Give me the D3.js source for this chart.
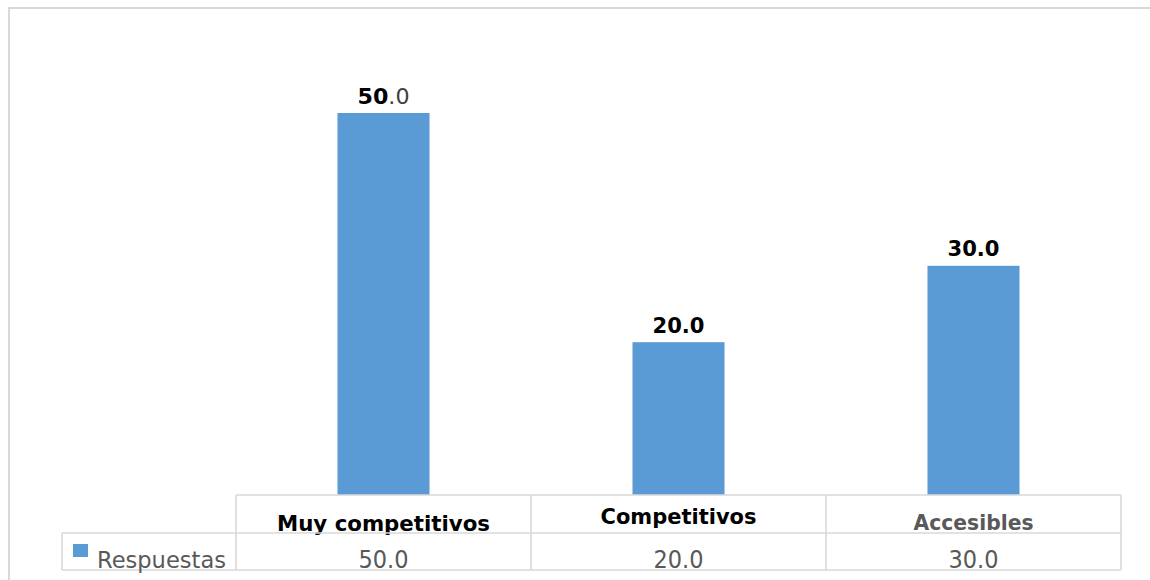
<!DOCTYPE html>
<html>
<head>
<meta charset="utf-8">
<script src="https://cdn.jsdelivr.net/npm/d3@7"></script>
<style>
  html, body { margin: 0; padding: 0; background: #fff; }
  svg { display: block; }
</style>
</head>
<body>
<svg id="chart" width="1150" height="580"></svg>
<script>
const categories = ["Muy competitivos", "Competitivos", "Accesibles"];
const values = [50.0, 20.0, 30.0];
const seriesName = "Respuestas";
const catColors = ["#000000", "#000000", "#595959"];
const catBaselines = [531, 524, 530];
const catWidths = [213, 156, 120];

const svg = d3.select("#chart");
const W = 1150, H = 580;
const tableLeft = 236, tableRight = 1121;
const axisY = 495, rowY = 533, tableBottom = 570, legendLeft = 62;
const lineColor = "#d9d9d9";

// outer chart border
svg.append("path")
  .attr("d", `M9,${H} L9,8 L${W},8`)
  .attr("fill", "none").attr("stroke", lineColor).attr("stroke-width", 2);

const x = d3.scaleBand().domain(categories).range([tableLeft, tableRight]).padding(0);
const y = d3.scaleLinear().domain([0, 50]).range([axisY, 113]);
const barW = x.bandwidth() * 0.312;

// bars
svg.selectAll("rect.bar").data(values).join("rect")
  .attr("class", "bar")
  .attr("x", (d, i) => x(categories[i]) + (x.bandwidth() - barW) / 2)
  .attr("y", d => y(d))
  .attr("width", barW)
  .attr("height", d => y(0) - y(d))
  .attr("fill", "#5B9BD5");

// data labels
const lbl = svg.selectAll("text.dl").data(values).join("text")
  .attr("class", "dl")
  .attr("x", (d, i) => x(categories[i]) + x.bandwidth() / 2)
  .attr("y", d => y(d) - 9.5)
  .attr("text-anchor", "middle")
  .attr("font-family", "DejaVu Sans")
  .attr("font-size", 21.5)
  .attr("textLength", 52)
  .attr("lengthAdjust", "spacingAndGlyphs");
lbl.each(function(d, i) {
  const t = d3.select(this);
  const s = d.toFixed(1).split(".");
  if (i === 0) {
    t.append("tspan").attr("font-weight", "bold").attr("fill", "#000").text(s[0]);
    t.append("tspan").attr("fill", "#404040").text("." + s[1]);
  } else {
    t.attr("font-weight", "bold").attr("fill", "#000").text(d.toFixed(1));
  }
});

// category header texts (drawn before grid lines so the row line overlaps)
svg.selectAll("text.cat").data(categories).join("text")
  .attr("class", "cat")
  .attr("x", d => x(d) + x.bandwidth() / 2)
  .attr("y", (d, i) => catBaselines[i])
  .attr("text-anchor", "middle")
  .attr("font-family", "DejaVu Sans")
  .attr("font-weight", "bold")
  .attr("font-size", 21)
  .attr("textLength", (d, i) => catWidths[i])
  .attr("lengthAdjust", "spacingAndGlyphs")
  .attr("fill", (d, i) => catColors[i])
  .text(d => d);

// data table grid
const g = svg.append("g").attr("fill", "none").attr("stroke", lineColor).attr("stroke-width", 1.6);
g.append("line").attr("x1", tableLeft).attr("x2", tableRight).attr("y1", axisY).attr("y2", axisY);
g.append("line").attr("x1", legendLeft).attr("x2", tableRight).attr("y1", rowY).attr("y2", rowY);
g.append("line").attr("x1", legendLeft).attr("x2", tableRight).attr("y1", tableBottom).attr("y2", tableBottom);
g.append("line").attr("x1", legendLeft).attr("x2", legendLeft).attr("y1", rowY).attr("y2", tableBottom);
const edges = categories.map(c => x(c)).concat([tableRight]);
g.selectAll("line.v").data(edges).join("line")
  .attr("class", "v")
  .attr("x1", d => d).attr("x2", d => d)
  .attr("y1", axisY).attr("y2", tableBottom);

// legend key
svg.append("rect").attr("x", 73).attr("y", 544).attr("width", 15).attr("height", 13).attr("fill", "#5B9BD5");
svg.append("text").attr("x", 97).attr("y", 567.5)
  .attr("font-family", "DejaVu Sans").attr("font-size", 23)
  .attr("textLength", 129).attr("lengthAdjust", "spacingAndGlyphs")
  .attr("fill", "#595959").text(seriesName);

// table values
svg.selectAll("text.val").data(values).join("text")
  .attr("class", "val")
  .attr("x", (d, i) => x(categories[i]) + x.bandwidth() / 2)
  .attr("y", 568)
  .attr("text-anchor", "middle")
  .attr("font-family", "DejaVu Sans")
  .attr("font-size", 24)
  .attr("textLength", 50)
  .attr("lengthAdjust", "spacingAndGlyphs")
  .attr("fill", "#595959")
  .text(d => d.toFixed(1));
</script>
</body>
</html>
